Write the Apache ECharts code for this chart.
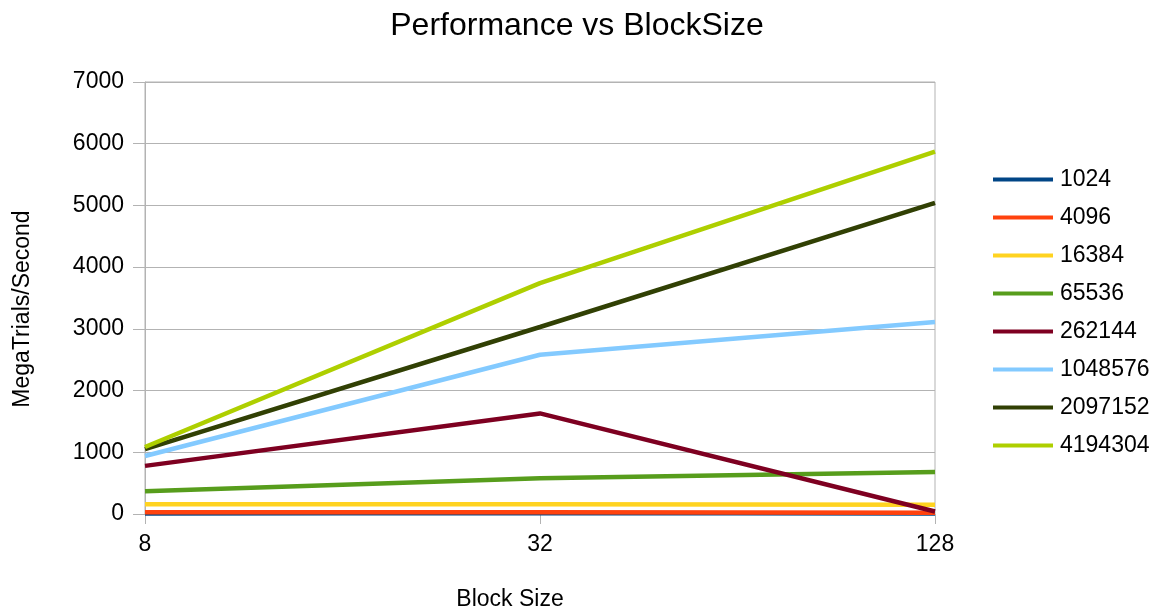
<!DOCTYPE html>
<html>
<head>
<meta charset="utf-8">
<script src="https://cdn.jsdelivr.net/npm/echarts@6/dist/echarts.min.js"></script>
<style>
  html, body { margin: 0; padding: 0; background: #fff; }
  #chart { width: 1173px; height: 611px; }
</style>
</head>
<body>
<div id="chart"></div>
<script>
const blockSizes = ['8', '32', '128'];
const seriesNames = ['1024', '4096', '16384', '65536', '262144', '1048576', '2097152', '4194304'];
const s1024 = [10, 15, 10];
const s4096 = [30, 30, 20];
const s16384 = [160, 160, 150];
const s65536 = [370, 580, 680];
const s262144 = [780, 1630, 40];
const s1048576 = [940, 2580, 3110];
const s2097152 = [1050, 3030, 5040];
const s4194304 = [1085, 3740, 5870];
const yTicks = { min: 0, max: 7000, interval: 1000 };

const seriesData = [s1024, s4096, s16384, s65536, s262144, s1048576, s2097152, s4194304];
const colors = ['#004586', '#ff420e', '#ffd320', '#579d1c', '#7e0021', '#83caff', '#314004', '#aecf00'];

const chart = echarts.init(document.getElementById('chart'));
chart.setOption({
  backgroundColor: '#fff',
  animation: false,
  textStyle: { fontFamily: 'Liberation Sans' },
  title: {
    text: 'Performance vs BlockSize',
    left: 572,
    textAlign: 'center',
    top: 5,
    textStyle: { fontSize: 32, fontWeight: 'normal', color: '#000', fontFamily: 'Liberation Sans' },
  },
  grid: {
    left: 145,
    right: 238,
    top: 82,
    bottom: 97,
    outerBoundsMode: 'none',
    containLabel: false,
    show: true,
    borderColor: '#b3b3b3',
    borderWidth: 1,
  },
  legend: {
    orient: 'vertical',
    left: 988,
    top: 163,
    itemWidth: 60,
    itemHeight: 4,
    itemGap: 15,
    icon: 'rect',
    data: seriesNames,
    textStyle: { fontSize: 23, color: '#000', padding: [0, 0, 0, 2] },
  },
  xAxis: {
    type: 'category',
    data: blockSizes,
    boundaryGap: false,
    name: 'Block Size',
    nameLocation: 'middle',
    nameGap: 74,
    nameTextStyle: { fontSize: 23, color: '#000', padding: [0, 60, 0, 0] },
    axisLine: { lineStyle: { color: '#b3b3b3' } },
    axisTick: { show: true, length: 10, lineStyle: { color: '#b3b3b3' } },
    axisLabel: { fontSize: 23, color: '#000', margin: 19 },
    splitLine: { show: false },
  },
  yAxis: {
    type: 'value',
    min: yTicks.min,
    max: yTicks.max,
    interval: yTicks.interval,
    name: 'MegaTrials/Second',
    nameLocation: 'middle',
    nameGap: 111,
    nameTextStyle: { fontSize: 23, color: '#000', padding: [0, 22, 0, 0] },
    axisLine: { show: true, lineStyle: { color: '#b3b3b3' } },
    axisTick: { show: true, length: 12, lineStyle: { color: '#b3b3b3' } },
    axisLabel: { fontSize: 23, color: '#000', margin: 21, formatter: (v) => String(v) },
    splitLine: { lineStyle: { color: '#b3b3b3' } },
  },
  series: seriesNames.map((name, i) => ({
    name: name,
    type: 'line',
    data: seriesData[i],
    symbol: 'none',
    color: colors[i],
    lineStyle: { width: 4.5, color: colors[i] },
  })),
});
</script>
</body>
</html>
